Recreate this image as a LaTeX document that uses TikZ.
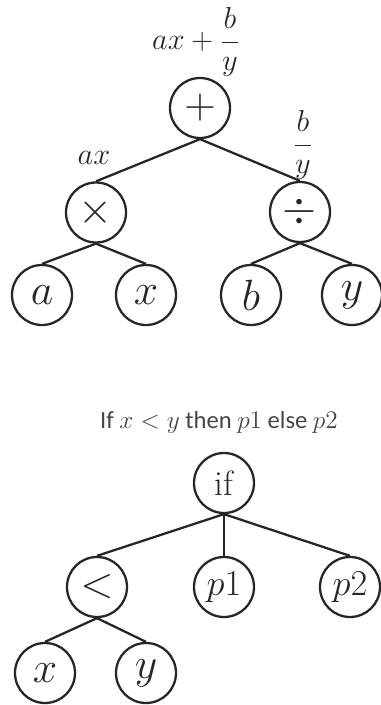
\documentclass[tikz,border=0pt]{standalone}
\usepackage{fontspec}
\setsansfont{Carlito}
\usetikzlibrary{positioning}
\definecolor{ink}{HTML}{262626}
\definecolor{inksoft}{HTML}{454545}

\begin{document}
\begin{tikzpicture}[
  opnode/.style={circle, draw=ink, line width=1.3pt, minimum size=1.2cm, inner sep=0pt, text=ink, font=\fontsize{25}{25}\selectfont},
  leaf/.style={opnode, font=\fontsize{29}{29}\selectfont},
  smallnode/.style={opnode, font=\fontsize{20}{20}\selectfont},
  edge/.style={line width=1.3pt, draw=ink},
  lbl/.style={font=\fontsize{16}{18}\selectfont, inner sep=0pt, text=ink},
  ttl/.style={font=\sffamily\fontsize{14}{16}\selectfont, inner sep=0pt, text=inksoft},
]
\useasboundingbox (0,0) rectangle (7.62,14.1);

% ---------- expression tree ----------
\node[opnode] (PL) at (4.00,11.94) {$+$};
\node[opnode] (TI) at (1.92,9.85)  {$\times$};
\node[opnode] (DV) at (6.00,9.86)  {$\div$};
\node[leaf] (LA) at (0.84,8.20) {$a$};
\node[leaf] (LX) at (2.92,8.20) {$x$};
\node[leaf] (LB) at (5.02,8.20) {$b$};
\node[leaf] (LY) at (7.04,8.20) {$y$};

% labels
\node[lbl] (LPL) at (3.92,13.26) {$\displaystyle ax+\frac{b}{y}$};
\node[lbl] (LTI) at (1.88,10.95) {$ax$};
\node[lbl] (LDV) at (6.06,11.20) {$\displaystyle\frac{b}{y}$};

% edges
\draw[edge] (PL.south) -- (TI.north);
\draw[edge] (PL.south) -- (DV.north);
\draw[edge] (TI.south) -- (LA.north);
\draw[edge] (TI.south) -- (LX.north);
\draw[edge] (DV.south) -- (LB.north);
\draw[edge] (DV.south) -- (LY.north);

% ---------- if tree ----------
\node[ttl] (TT) at (4.38,5.66) {If $x<y$ then $p1$ else $p2$};
\node[smallnode] (IF) at (4.48,4.44) {if};
\node[opnode] (LT) at (1.94,2.36) {$<$};
\node[smallnode] (P1) at (4.48,2.36) {$p1$};
\node[smallnode] (P2) at (7.00,2.36) {$p2$};
\node[leaf] (CX) at (0.90,0.64) {$x$};
\node[leaf] (CY) at (2.92,0.64) {$y$};

\draw[edge] (IF.south) -- (LT.north);
\draw[edge] (IF.south) -- (P1.north);
\draw[edge] (IF.south) -- (P2.north);
\draw[edge] (LT.south) -- (CX.north);
\draw[edge] (LT.south) -- (CY.north);

\end{tikzpicture}
\end{document}
